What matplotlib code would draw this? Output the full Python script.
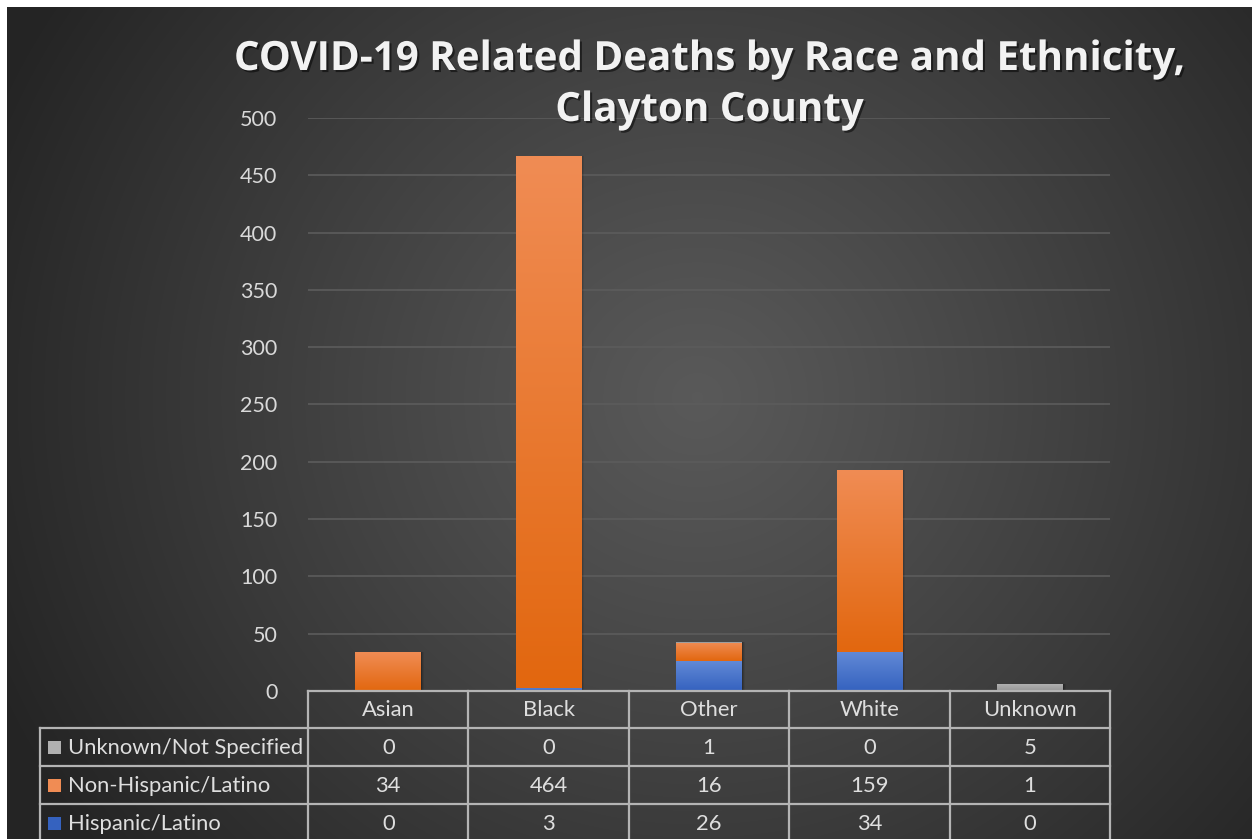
import numpy as np
import matplotlib
matplotlib.use("Agg")
import matplotlib.pyplot as plt
from matplotlib import patheffects as pe
from matplotlib.colors import to_rgb

# ---------------- data ----------------
categories = ["Asian", "Black", "Other", "White", "Unknown"]
hispanic = [0, 3, 26, 34, 0]
non_hispanic = [34, 464, 16, 159, 1]
unknown_ns = [0, 0, 1, 0, 5]
row_labels = ["Unknown/Not Specified", "Non-Hispanic/Latino", "Hispanic/Latino"]
yticks = [0, 50, 100, 150, 200, 250, 300, 350, 400, 450, 500]
title_lines = ["COVID-19 Related Deaths by Race and Ethnicity,", "Clayton County"]

# colours (top, bottom) for gradients
c_blue = ("#6189d6", "#3562bf")
c_orange = ("#f08c54", "#e2670f")
c_gray = ("#b0b0b0", "#9a9a9a")

W, H = 1252, 839
fig = plt.figure(figsize=(W / 100, H / 100), dpi=100, facecolor="white")

# ---------------- background ----------------
bg = fig.add_axes([7 / W, 0, (W - 7) / W, (H - 7) / H])
yy, xx = np.mgrid[0:H - 7, 0:W - 7]
cx, cy = 690, 390
r = np.hypot(xx - cx, (yy - cy) * 1.05)
t = np.clip(r / 760, 0, 1) ** 1.1
val = 0.35 * (1 - t) + 0.145 * t
bg.imshow(np.dstack([val, val, val]), aspect="auto", interpolation="bilinear")
bg.axis("off")
bg.set_zorder(-10)

# ---------------- main axes ----------------
ax = fig.add_axes([308 / W, 148 / H, 802 / W, 573 / H])
ax.patch.set_alpha(0)
for s in ax.spines.values():
    s.set_visible(False)
ax.set_axisbelow(True)
ax.yaxis.grid(True, color="#5c5c5c", lw=1.2)
ax.set_yticks(yticks)
ax.set_xticks([])
ax.tick_params(axis="y", length=0, pad=22, labelcolor="#d9d9d9", labelsize=15.5)
for lab in ax.get_yticklabels():
    lab.set_fontfamily("Lato")

xpos = np.arange(len(categories)) + 0.5
bw = 0.41


def grad_bar(x, bottom, height, cols):
    if height <= 0:
        return
    rect = ax.bar(x, height, bw, bottom=bottom, color="none", lw=0, zorder=3)[0]
    # soft shadow
    for k, a in [(0.006, 0.18), (0.012, 0.12), (0.018, 0.07)]:
        ax.bar(x + k, height, bw, bottom=bottom, color="black", alpha=a,
               lw=0, zorder=2)
    top = np.array(to_rgb(cols[0]))
    bot = np.array(to_rgb(cols[1]))
    g = np.linspace(0, 1, 64)[:, None]
    img = top[None, :] * (1 - g) + bot[None, :] * g
    img = img[:, None, :]
    im = ax.imshow(img, extent=[x - bw / 2, x + bw / 2, bottom, bottom + height],
                   aspect="auto", zorder=3, interpolation="bilinear")
    im.set_clip_path(rect)


for i, x in enumerate(xpos):
    b = 0
    grad_bar(x, b, hispanic[i], c_blue)
    b += hispanic[i]
    grad_bar(x, b, non_hispanic[i], c_orange)
    b += non_hispanic[i]
    grad_bar(x, b, unknown_ns[i], c_gray)

ax.set_xlim(0, len(categories))
ax.set_ylim(0, 500)

# ---------------- title ----------------
shadow = [pe.SimplePatchShadow(offset=(1.5, -1.5), shadow_rgbFace="black", alpha=0.5),
          pe.Normal()]
for line, yp in zip(title_lines, [70, 121]):
    fig.text(709 / W, 1 - yp / H, line, ha="center", va="baseline", fontsize=29,
             fontweight="bold", family="Open Sans", color="#f2f2f2",
             path_effects=shadow)

# ---------------- data table ----------------
ov = fig.add_axes([0, 0, 1, 1])
ov.set_xlim(0, W)
ov.set_ylim(H, 0)
ov.axis("off")
ov.patch.set_alpha(0)

x_edges = [308 + i * 802 / len(categories) for i in range(len(categories) + 1)]
y_head_top, y_rows = 691, [728, 766, 804, 842]
lc = "#b4b4b4"
lw = 1.6
left = 40
ov.plot([x_edges[0], x_edges[-1]], [y_head_top, y_head_top], color=lc, lw=lw)
for yv in y_rows:
    ov.plot([left, x_edges[-1]], [yv, yv], color=lc, lw=lw)
ov.plot([left, left], [y_rows[0], H], color=lc, lw=lw)
for xe in x_edges:
    ov.plot([xe, xe], [y_head_top, H], color=lc, lw=lw)

tc = "#dedede"
fs = 15.8
for i, cat in enumerate(categories):
    xc = (x_edges[i] + x_edges[i + 1]) / 2
    ov.text(xc, (y_head_top + y_rows[0]) / 2 + 1, cat, ha="center", va="center",
            color=tc, fontsize=fs, family="Lato")

table_rows = [unknown_ns, non_hispanic, hispanic]
row_cols = [c_gray[0], c_orange[0], c_blue[1]]
for r_i, (lab, vals, col) in enumerate(zip(row_labels, table_rows, row_cols)):
    yc = (y_rows[r_i] + y_rows[r_i + 1]) / 2
    ov.add_patch(plt.Rectangle((48, yc - 6.5), 13, 13, color=col, lw=0))
    ov.text(68, yc + 1, lab, ha="left", va="center", color=tc, fontsize=fs,
            family="Lato")
    for i, v in enumerate(vals):
        xc = (x_edges[i] + x_edges[i + 1]) / 2
        ov.text(xc, yc + 1, str(v), ha="center", va="center", color=tc,
                fontsize=fs, family="Lato")

fig.savefig("out.png", dpi=100, facecolor="white")
